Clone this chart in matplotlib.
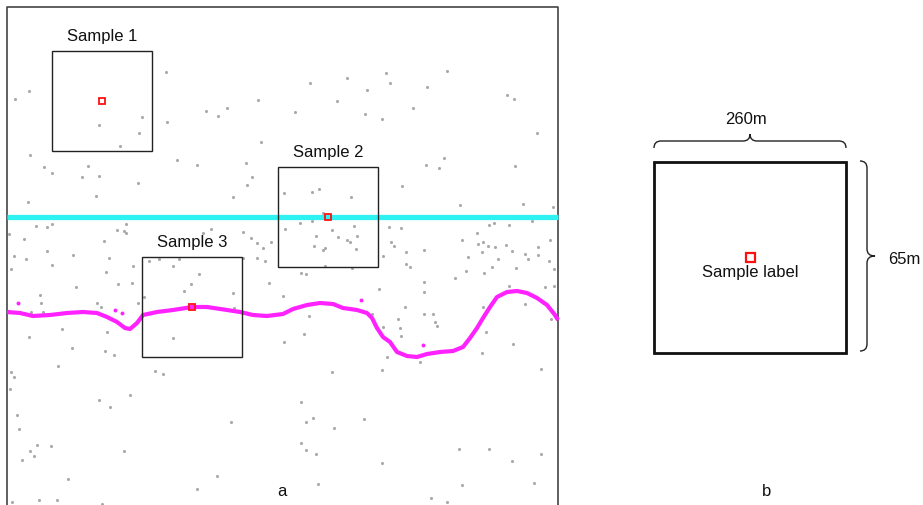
import matplotlib
matplotlib.use('Agg')
import matplotlib.pyplot as plt
from matplotlib.patches import Rectangle, PathPatch
from matplotlib.path import Path

plt.rcParams['font.family'] = ['Liberation Sans', 'DejaVu Sans']

# background points (panel a, pixel-like coordinates)
grey_x = [166, 29, 15, 142, 99, 167, 206, 227, 218, 258, 295, 139, 120, 261, 30, 44, 52, 88, 82, 99,
          177, 197, 246, 252, 310, 347, 386, 390, 367, 337, 365, 382, 413, 427, 447, 507, 514, 537,
          444, 426, 439, 515, 138, 247, 96, 28, 233, 284, 36, 47, 52, 126, 117, 124, 126, 203, 211,
          243, 257, 263, 271, 251, 285, 9, 24, 104, 47, 73, 14, 26, 109, 149, 159, 179, 243, 257, 265,
          52, 173, 11, 133, 106, 199, 191, 132, 118, 76, 269, 184, 233, 40, 144, 283, 41, 97, 101,
          138, 31, 43, 234, 62, 29, 107, 173, 284, 72, 105, 114, 402, 312, 319, 351, 460, 523, 553,
          323, 300, 312, 332, 354, 389, 401, 489, 494, 509, 532, 316, 338, 347, 350, 357, 314, 323,
          325, 356, 477, 462, 478, 483, 488, 495, 506, 482, 512, 538, 550, 391, 394, 424, 406, 383,
          525, 528, 538, 468, 498, 549, 554, 325, 352, 406, 410, 492, 516, 466, 484, 301, 306, 455,
          379, 509, 545, 554, 424, 424, 525, 405, 309, 424, 433, 483, 372, 398, 435, 437, 551, 486,
          383, 400, 304, 401, 513, 482, 387, 58, 11, 14, 10, 155, 163, 99, 130, 110, 17, 19, 231, 37,
          51, 30, 34, 22, 124, 68, 217, 197, 12, 39, 57, 102, 420, 332, 382, 541, 301, 306, 313, 334,
          364, 301, 306, 316, 382, 459, 489, 512, 541, 318, 462, 534, 431, 447]
grey_y = [72, 91, 99, 117, 125, 122, 111, 108, 116, 100, 112, 133, 146, 142, 155, 167, 173, 166, 177,
          176, 160, 165, 163, 177, 83, 78, 73, 83, 90, 101, 114, 119, 108, 87, 71, 95, 99, 133, 158,
          165, 168, 166, 183, 185, 196, 202, 197, 193, 226, 227, 224, 224, 230, 231, 233, 233, 229,
          232, 243, 248, 242, 238, 229, 234, 239, 241, 251, 255, 256, 259, 258, 261, 259, 259, 258,
          258, 261, 265, 266, 269, 266, 272, 274, 284, 283, 284, 287, 283, 291, 293, 295, 297, 296,
          303, 303, 307, 303, 312, 312, 308, 329, 337, 332, 338, 342, 348, 351, 355, 186, 192, 189,
          197, 205, 204, 207, 213, 223, 221, 230, 226, 227, 228, 225, 223, 225, 221, 236, 237, 240,
          242, 236, 246, 250, 248, 249, 233, 240, 244, 242, 246, 247, 245, 252, 251, 247, 240, 242,
          246, 250, 252, 256, 254, 259, 255, 257, 259, 261, 269, 266, 268, 264, 267, 267, 268, 271,
          273, 273, 274, 278, 289, 286, 287, 286, 282, 292, 304, 307, 316, 314, 314, 307, 314, 319,
          322, 326, 319, 332, 327, 328, 334, 336, 344, 353, 357, 366, 372, 377, 389, 371, 374, 400,
          395, 407, 415, 429, 422, 445, 446, 451, 456, 460, 451, 479, 476, 489, 502, 500, 500, 504,
          362, 372, 370, 369, 402, 422, 418, 428, 419, 443, 450, 454, 463, 449, 449, 461, 454, 484,
          485, 483, 498, 502]

# boundary lines
cyan_x = [7, 558]
cyan_y = [217, 217]
magenta_x = [7, 20, 33, 50, 67, 83, 97, 107, 117, 125, 130, 137, 143, 157, 173, 192, 207, 227, 240,
             253, 267, 283, 293, 307, 320, 333, 343, 357, 367, 372, 377, 383, 390, 397, 407, 417, 427,
             440, 453, 463, 470, 477, 483, 490, 497, 507, 517, 527, 537, 547, 555, 558]
magenta_y = [312, 313, 316, 315, 313, 312, 313, 317, 322, 328, 329, 323, 315, 312, 310, 307, 307, 310,
             312, 315, 316, 314, 309, 305, 303, 304, 308, 310, 313, 318, 328, 337, 342, 352, 356, 357,
             354, 352, 351, 347, 338, 328, 318, 307, 297, 292, 291, 293, 298, 305, 315, 320]
magenta_dot_x = [18, 115, 122, 361, 423]
magenta_dot_y = [303, 310, 313, 300, 345]

# samples
sample_names = ['Sample 1', 'Sample 2', 'Sample 3']
sample_cx = [102, 328, 192]
sample_cy = [101, 217, 307]

fig = plt.figure(figsize=(9.23, 5.05), dpi=100, facecolor='white')
ax = fig.add_axes([0, 0, 1, 1])
ax.set_xlim(0, 923)
ax.set_ylim(505, 0)
ax.axis('off')

# panel a frame
ax.plot([7, 7, 558, 558], [506, 7, 7, 506], color='#444444', lw=1.2, zorder=1)

ax.scatter(grey_x, grey_y, s=5, color='#a9a9a9', linewidths=0, zorder=2)
ax.plot(cyan_x, cyan_y, color='#2ef2f2', lw=3.8, solid_capstyle='butt', zorder=3)
ax.plot(magenta_x, magenta_y, color='#ff22ff', lw=3.0, solid_capstyle='butt', zorder=3)
ax.scatter(magenta_dot_x, magenta_dot_y, s=8, color='#ff22ff', linewidths=0, zorder=3)

half = 50
for name, cx, cy in zip(sample_names, sample_cx, sample_cy):
    ax.add_patch(Rectangle((cx - half, cy - half), 2 * half, 2 * half, fill=False,
                           edgecolor='#222222', lw=1.0, zorder=4))
    ax.add_patch(Rectangle((cx - 3, cy - 3), 6, 6, fill=False, edgecolor='#ff1010', lw=1.3, zorder=5))
    ax.text(cx, cy - half - 14, name, ha='center', va='center', fontsize=12, color='#111111')

ax.text(282, 492, 'a', ha='center', va='center', fontsize=12, color='#111111')

# panel b: schematic of a sample
ax.add_patch(Rectangle((654, 162), 192, 191, fill=False, edgecolor='#111111', lw=2.0))
ax.add_patch(Rectangle((745.5, 252.5), 9, 9, fill=False, edgecolor='#ff1010', lw=1.6))
ax.text(750, 273, 'Sample label', ha='center', va='center', fontsize=12, color='#111111')
ax.text(767, 492, 'b', ha='center', va='center', fontsize=12, color='#111111')


def hbrace(x0, x1, yb, yl, yt, r):
    xm = (x0 + x1) / 2
    verts = [(x0, yb), (x0, yl), (x0 + r, yl), (xm - r, yl), (xm, yl), (xm, yt),
             (xm, yl), (xm + r, yl), (x1 - r, yl), (x1, yl), (x1, yb)]
    codes = [Path.MOVETO, Path.CURVE3, Path.CURVE3, Path.LINETO, Path.CURVE3, Path.CURVE3,
             Path.CURVE3, Path.CURVE3, Path.LINETO, Path.CURVE3, Path.CURVE3]
    ax.add_patch(PathPatch(Path(verts, codes), fill=False, edgecolor='#222222', lw=1.0))


def vbrace(y0, y1, xb, xl, xt, r):
    ym = (y0 + y1) / 2
    verts = [(xb, y0), (xl, y0), (xl, y0 + r), (xl, ym - r), (xl, ym), (xt, ym),
             (xl, ym), (xl, ym + r), (xl, y1 - r), (xl, y1), (xb, y1)]
    codes = [Path.MOVETO, Path.CURVE3, Path.CURVE3, Path.LINETO, Path.CURVE3, Path.CURVE3,
             Path.CURVE3, Path.CURVE3, Path.LINETO, Path.CURVE3, Path.CURVE3]
    ax.add_patch(PathPatch(Path(verts, codes), fill=False, edgecolor='#222222', lw=1.0))


hbrace(654, 846, 148, 141, 134, 7)
vbrace(161, 351, 860, 867, 875, 7)
ax.text(746, 120, '260m', ha='center', va='center', fontsize=12, color='#111111')
ax.text(904, 260, '65m', ha='center', va='center', fontsize=12, color='#111111')

fig.savefig('out.png', dpi=100, facecolor='white')
